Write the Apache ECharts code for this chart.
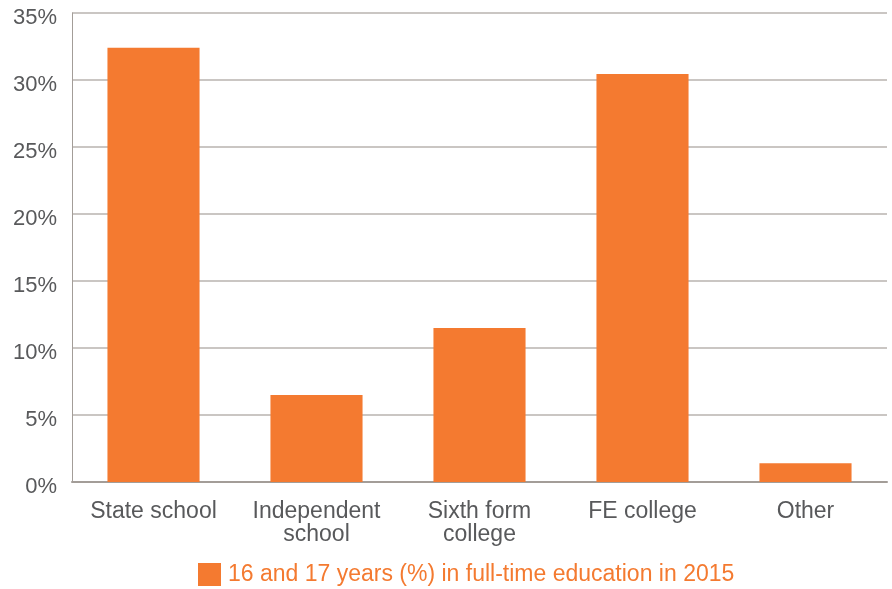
<!DOCTYPE html>
<html>
<head>
<meta charset="utf-8">
<script src="https://cdn.jsdelivr.net/npm/echarts@6/dist/echarts.min.js"></script>
<style>html,body{margin:0;padding:0;background:#fff}#c{width:892px;height:589px}</style>
</head>
<body>
<div id="c"></div>
<script>
var categories = ['State school', 'Independent\nschool', 'Sixth form\ncollege', 'FE college', 'Other'];
var values = [32.4, 6.5, 11.5, 30.45, 1.4];
var seriesName = '16 and 17 years (%) in full-time education in 2015';
var yTicks = [0, 5, 10, 15, 20, 25, 30, 35];

var chart = echarts.init(document.getElementById('c'));
chart.setOption({
  animation: false,
  textStyle: { fontFamily: 'Liberation Sans, Arial, sans-serif' },
  grid: { left: 72, right: 5, top: 13, bottom: 107, containLabel: false },
  legend: {
    bottom: 3, left: 198, padding: 0,
    itemWidth: 23, itemHeight: 23, itemGap: 10,
    icon: 'rect',
    textStyle: { color: '#f47a30', fontSize: 23, padding: [0, 0, 0, 2], fontFamily: 'Liberation Sans, Arial, sans-serif' },
    data: [seriesName]
  },
  xAxis: {
    type: 'category',
    data: categories,
    axisLine: { lineStyle: { color: '#a39d98', width: 2 } },
    axisTick: { inside: true, length: 12, lineStyle: { color: '#a39d98', width: 1 } },
    axisLabel: { color: '#58595b', fontSize: 23, margin: 18, lineHeight: 23, interval: 0 }
  },
  yAxis: {
    type: 'value',
    min: 0, max: 35, interval: 5,
    axisLine: { show: true, lineStyle: { color: '#a39d98', width: 1 } },
    axisTick: { show: false },
    splitLine: { lineStyle: { color: '#b8b3af', width: 1.5 } },
    axisLabel: { color: '#58595b', fontSize: 22, margin: 15, verticalAlign: 'top', lineHeight: 9, formatter: function (v) { return yTicks.indexOf(v) >= 0 ? v + '%' : ''; } }
  },
  series: [{
    name: seriesName,
    type: 'bar',
    data: values,
    barWidth: '56.5%',
    itemStyle: { color: '#f47a30' }
  }]
});
</script>
</body>
</html>
